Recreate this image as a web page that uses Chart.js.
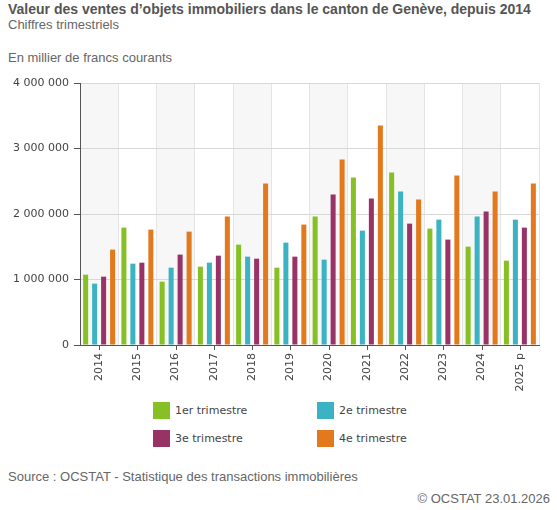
<!DOCTYPE html>
<html lang="fr">
<head>
    <meta charset="UTF-8">
    <title>Valeur des ventes d'objets immobiliers</title>
    <script src="https://cdn.jsdelivr.net/npm/chart.js"></script>
    <style>
        body {
            margin: 0;
            width: 557px;
            height: 510px;
            position: relative;
            background: #fff;
            font-family: "Liberation Sans", Arial, sans-serif;
            overflow: hidden;
        }
        .title {
            position: absolute;
            left: 8px;
            top: 1px;
            font-size: 14px;
            font-weight: bold;
            color: #555;
        }
        .subtitle {
            position: absolute;
            left: 8px;
            top: 17px;
            font-size: 13px;
            color: #666;
        }
        .unit {
            position: absolute;
            left: 8px;
            top: 50px;
            font-size: 13px;
            color: #666;
        }
        .chart-box {
            position: absolute;
            left: 0;
            top: 70px;
            width: 557px;
            height: 330px;
        }
        .legend-item {
            position: absolute;
            font-family: "DejaVu Sans", Verdana, sans-serif;
            font-size: 11px;
            color: #444;
            line-height: 17px;
            white-space: nowrap;
        }
        .legend-item span {
            display: inline-block;
            width: 17px;
            height: 17px;
            vertical-align: top;
            margin-right: 5px;
        }
        .source {
            position: absolute;
            left: 8px;
            top: 469px;
            font-size: 13px;
            color: #666;
        }
        .copy {
            position: absolute;
            right: 7px;
            top: 491px;
            font-size: 13px;
            color: #666;
        }
    </style>
</head>
<body>

    <div class="title">Valeur des ventes d’objets immobiliers dans le canton de Genève, depuis 2014</div>
    <div class="subtitle">Chiffres trimestriels</div>
    <div class="unit">En millier de francs courants</div>

    <div class="chart-box">
        <canvas id="ventesChart" width="557" height="330"></canvas>
    </div>
    <div id="legend"></div>

    <div class="source">Source : OCSTAT - Statistique des transactions immobilières</div>
    <div class="copy">© OCSTAT 23.01.2026</div>

    <script>
        // données (milliers de francs)
        const annees = ['2014', '2015', '2016', '2017', '2018', '2019', '2020', '2021', '2022', '2023', '2024', '2025 p'];
        const trimestre1 = [1074000, 1792000, 967000, 1196000, 1532000, 1181000, 1960000, 2556000, 2632000, 1777000, 1502000, 1288000];
        const trimestre2 = [937000, 1242000, 1181000, 1257000, 1349000, 1563000, 1303000, 1746000, 2342000, 1914000, 1960000, 1914000];
        const trimestre3 = [1043000, 1257000, 1380000, 1364000, 1318000, 1349000, 2296000, 2235000, 1853000, 1609000, 2037000, 1792000];
        const trimestre4 = [1456000, 1762000, 1731000, 1960000, 2464000, 1838000, 2831000, 3351000, 2220000, 2587000, 2342000, 2464000];
        const yTicks = [0, 1000000, 2000000, 3000000, 4000000];

        const couleurs = ['#85c124', '#3bb3c3', '#993366', '#e2791d'];
        const libelles = ['1er trimestre', '2e trimestre', '3e trimestre', '4e trimestre'];

        // bandes grises une année sur deux
        const bandes = {
            id: 'bandes',
            beforeDraw(chart) {
                const ctx = chart.ctx;
                const x = chart.scales.x;
                const area = chart.chartArea;
                const w = x.getPixelForValue(1) - x.getPixelForValue(0);
                ctx.save();
                ctx.fillStyle = '#f7f7f7';
                annees.forEach((a, i) => {
                    if (i % 2 === 0) {
                        const cx = x.getPixelForValue(i);
                        ctx.fillRect(cx - w / 2, area.top, w, area.bottom - area.top);
                    }
                });
                ctx.restore();
            }
        };

        // petits traits sous l'axe au centre de chaque année
        const traits = {
            id: 'traits',
            afterDraw(chart) {
                const ctx = chart.ctx;
                const x = chart.scales.x;
                const bas = chart.chartArea.bottom;
                ctx.save();
                ctx.strokeStyle = '#555';
                ctx.lineWidth = 1;
                annees.forEach((a, i) => {
                    const cx = Math.round(x.getPixelForValue(i)) + 0.5;
                    ctx.beginPath();
                    ctx.moveTo(cx, bas);
                    ctx.lineTo(cx, bas + 5);
                    ctx.stroke();
                });
                ctx.restore();
            }
        };

        const series = [trimestre1, trimestre2, trimestre3, trimestre4];

        const chart = new Chart(document.getElementById('ventesChart'), {
            type: 'bar',
            data: {
                labels: annees,
                datasets: series.map((s, i) => ({
                    label: libelles[i],
                    data: s,
                    backgroundColor: couleurs[i],
                    barPercentage: 0.56,
                    categoryPercentage: 0.94
                }))
            },
            options: {
                responsive: false,
                animation: false,
                layout: {
                    padding: { top: 13, right: 18, left: 0, bottom: 0 }
                },
                plugins: {
                    legend: { display: false },
                    tooltip: { enabled: false }
                },
                scales: {
                    x: {
                        afterFit: s => { s.height = 55; },
                        grid: {
                            offset: true,
                            color: '#e4e4e4',
                            drawTicks: false
                        },
                        border: { color: '#555' },
                        ticks: {
                            minRotation: 90,
                            maxRotation: 90,
                            padding: 8,
                            color: '#444',
                            font: { family: 'DejaVu Sans', size: 11 }
                        }
                    },
                    y: {
                        min: 0,
                        max: 4000000,
                        afterFit: s => { s.width = 80; },
                        afterBuildTicks: s => { s.ticks = yTicks.map(v => ({ value: v })); },
                        grid: {
                            color: '#d8d8d8',
                            tickColor: '#555',
                            tickLength: 6
                        },
                        border: { color: '#555' },
                        ticks: {
                            padding: 5,
                            color: '#444',
                            font: { family: 'DejaVu Sans', size: 11 },
                            callback: v => String(v).replace(/\B(?=(\d{3})+(?!\d))/g, ' ')
                        }
                    }
                }
            },
            plugins: [bandes, traits]
        });

        // légende en deux colonnes
        const legend = document.getElementById('legend');
        const positions = [[153, 402], [317, 402], [153, 430], [317, 430]];
        chart.data.datasets.forEach((ds, i) => {
            const item = document.createElement('div');
            item.className = 'legend-item';
            item.style.left = positions[i][0] + 'px';
            item.style.top = positions[i][1] + 'px';
            item.innerHTML = `<span style="background:${ds.backgroundColor}"></span>${ds.label}`;
            legend.appendChild(item);
        });
    </script>

</body>
</html>
